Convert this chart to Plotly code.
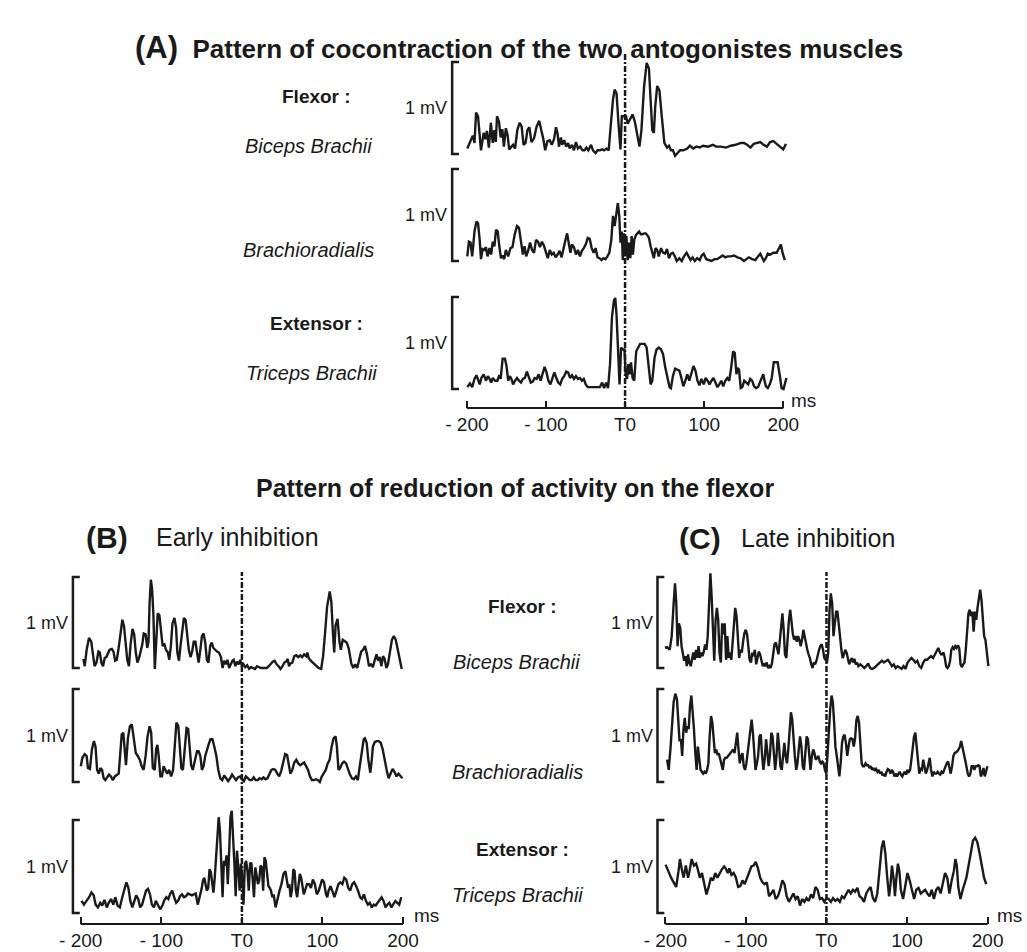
import plotly.graph_objects as go

# ---------------- data (time in ms, amplitude in mV) ----------------
TICK_VALS = [-200, -100, 0, 100, 200]
TICK_TEXT = ["- 200", "- 100", "T0", "100", "200"]

A1_BICEPS = [(-199.5,0.06),(-195.4,0.15),(-192.5,0.20),(-190.4,0.12),(-188.4,0.45),(-185.9,0.41),(-182.2,0.04),(-178.8,0.23),
 (-176.8,0.16),(-174.7,0.25),(-172.2,0.07),(-169.7,0.34),(-167.3,0.12),(-165.2,0.26),(-163.5,0.13),(-161.9,0.41),(-159.4,0.35),
 (-157.3,0.18),(-155.2,0.27),(-153.2,0.08),(-150.7,0.28),(-148.6,0.21),(-146.5,0.05),(-143.6,0.08),(-141.6,0.10),(-139.1,0.06),
 (-136.2,0.26),(-133.3,0.34),(-130.8,0.30),(-128.3,0.10),(-125.8,0.12),(-123.4,0.26),(-120.9,0.29),(-118.4,0.13),(-115.1,0.17),
 (-111.8,0.30),(-108.5,0.36),(-106.0,0.26),(-103.5,0.17),(-101.0,0.04),(-98.1,0.14),(-95.2,0.15),(-92.7,0.10),(-89.8,0.16),
 (-87.3,0.29),(-85.3,0.22),(-83.6,0.08),(-81.1,0.18),(-79.5,0.10),(-77.0,0.15),(-74.5,0.08),(-72.0,0.12),(-70.0,0.06),(-67.1,0.10),
 (-64.6,0.04),(-62.1,0.13),(-59.6,0.06),(-56.7,0.08),(-53.8,0.04),(-51.3,0.04),(-48.8,0.07),(-46.4,0.04),(-43.0,0.10),(-40.6,0.04),
 (-37.3,0.01),(-34.8,0.04),(-31.9,0.04),(-29.0,0.05),(-26.5,0.04),(-23.6,0.06),(-20.7,0.04),(-18.2,0.30),(-15.3,0.59),(-13.2,0.70),
 (-10.8,0.66),(-8.3,0.33),(-5.8,0.05),(-4.1,0.41),(-1.6,0.41),(1.2,0.41),(3.3,0.33),(6.6,0.39),(9.5,0.43),(12.4,0.35),(15.7,0.19),
 (18.2,0.08),(20.7,0.26),(24.0,0.73),(27.3,0.99),(30.2,0.93),(32.3,0.59),(34.4,0.26),(36.4,0.23),(38.1,0.51),(40.6,0.74),(43.5,0.69),
 (46.4,0.41),(49.7,0.12),(53.0,0.07),(55.5,0.09),(58.0,0.04),(60.5,0.04),(63.3,-0.02),(66.3,0.01),(69.6,0.04),(73.7,0.04),(78.7,0.06),
 (82.0,0.09),(86.1,0.06),(90.3,0.08),(94.4,0.07),(98.5,0.09),(104.8,0.08),(111.0,0.10),(115.1,0.08),(121.3,0.08),(127.5,0.07),
 (133.7,0.09),(139.9,0.10),(146.2,0.12),(150.3,0.12),(154.4,0.10),(158.6,0.07),(162.7,0.11),(166.8,0.12),(171.0,0.13),(175.1,0.10),
 (179.3,0.08),(183.4,0.13),(187.5,0.14),(191.7,0.11),(195.8,0.08),(200.0,0.05),(203.5,0.11)]

A2_BRACHIORAD = [(-199.5,0.05),(-197.5,0.21),(-195.4,0.20),(-193.3,0.05),(-192.1,0.16),(-190.4,0.32),(-187.9,0.43),(-185.9,0.41),
 (-183.8,0.23),(-182.2,0.02),(-180.1,0.13),(-178.0,0.12),(-175.9,0.15),(-173.9,0.05),(-171.4,0.14),(-169.3,0.07),(-167.3,0.21),
 (-165.2,0.16),(-163.1,0.34),(-161.0,0.32),(-159.0,0.16),(-156.9,0.03),(-154.8,0.06),(-152.8,0.02),(-150.7,0.12),(-147.8,0.05),
 (-144.9,0.14),(-142.4,0.15),(-139.5,0.29),(-136.6,0.38),(-134.1,0.36),(-131.6,0.20),(-129.2,0.07),(-127.1,0.16),(-125.0,0.05),
 (-122.6,0.11),(-120.1,0.20),(-117.6,0.12),(-115.1,0.09),(-112.6,0.23),(-110.1,0.21),(-107.6,0.15),(-105.1,0.21),(-102.7,0.17),
 (-100.2,0.09),(-97.7,0.03),(-95.2,0.12),(-92.7,0.07),(-90.2,0.09),(-87.8,0.04),(-85.3,0.07),(-82.8,0.11),(-80.3,0.04),(-77.8,0.12),
 (-75.3,0.23),(-73.3,0.30),(-71.2,0.20),(-69.1,0.09),(-67.1,0.18),(-64.6,0.15),(-62.1,0.07),(-59.6,0.12),(-57.1,0.05),(-54.6,0.11),
 (-52.2,0.14),(-49.7,0.18),(-47.2,0.25),(-44.7,0.24),(-42.2,0.14),(-39.7,0.09),(-37.3,0.14),(-34.8,0.04),(-32.3,0.03),(-29.8,0.01),
 (-27.3,0.03),(-24.8,0.02),(-22.3,0.05),(-19.9,0.09),(-17.4,0.23),(-15.3,0.49),(-13.2,0.38),(-11.2,0.52),(-9.1,0.63),(-7.4,0.50),
 (-5.8,0.20),(-4.1,0.32),(-2.9,0.01),(-1.6,0.30),(0.0,0.05),(1.7,0.27),(3.3,0.01),(5.0,0.20),(6.6,0.03),(8.3,0.27),(9.9,0.07),
 (11.6,0.23),(13.7,0.28),(15.7,0.30),(17.8,0.32),(19.9,0.29),(21.9,0.29),(24.0,0.30),(26.1,0.30),(28.2,0.28),(30.2,0.25),(32.3,0.16),
 (34.4,0.09),(36.4,0.03),(38.5,0.14),(40.6,0.12),(42.6,0.05),(45.5,0.14),(48.0,0.09),(50.5,0.08),(53.0,0.13),(55.5,0.03),(58.0,0.08),
 (60.5,0.09),(63.0,0.05),(65.4,0.00),(68.7,0.03),(71.6,0.00),(74.5,0.05),(77.8,0.09),(80.3,0.05),(82.8,0.01),(85.3,0.04),(88.2,0.00),
 (91.1,0.03),(94.4,0.01),(96.9,0.06),(99.4,0.08),(102.7,0.02),(106.0,0.01),(109.3,0.00),(113.0,0.02),(116.3,0.02),(120.1,0.04),
 (123.4,0.06),(126.7,0.04),(129.6,0.05),(133.7,0.05),(137.9,0.06),(142.0,0.04),(146.2,0.03),(150.3,0.00),(153.6,0.02),(156.5,0.04),
 (160.6,0.02),(164.8,0.01),(168.1,0.05),(171.0,0.08),(173.1,0.04),(175.5,0.00),(178.0,0.03),(180.5,0.08),(183.4,0.07),(187.5,0.09),
 (191.7,0.09),(195.0,0.14),(197.1,0.18),(199.1,0.09),(202.0,0.01)]

A3_TRICEPS = [(-199.5,0.02),(-196.2,0.06),(-193.3,0.02),(-190.4,0.11),(-187.9,0.15),(-185.9,0.09),(-183.8,0.05),(-181.7,0.12),
 (-178.8,0.16),(-175.9,0.09),(-173.5,0.14),(-171.4,0.11),(-169.3,0.07),(-167.3,0.12),(-164.4,0.09),(-161.5,0.09),(-159.0,0.15),
 (-157.3,0.11),(-154.8,0.33),(-151.9,0.33),(-149.9,0.25),(-147.8,0.09),(-145.7,0.14),(-143.7,0.11),(-141.6,0.05),(-139.1,0.09),
 (-136.6,0.12),(-134.1,0.09),(-131.6,0.07),(-129.2,0.11),(-126.7,0.12),(-124.2,0.19),(-121.7,0.12),(-119.2,0.07),(-116.7,0.08),
 (-114.3,0.12),(-111.8,0.11),(-109.3,0.16),(-106.8,0.09),(-104.3,0.18),(-101.8,0.24),(-99.3,0.18),(-96.9,0.09),(-94.4,0.05),
 (-91.9,0.12),(-89.4,0.18),(-86.9,0.12),(-84.5,0.07),(-82.0,0.05),(-79.5,0.11),(-77.0,0.14),(-74.5,0.19),(-72.0,0.18),(-69.6,0.12),
 (-67.1,0.15),(-64.6,0.11),(-62.1,0.14),(-59.6,0.11),(-57.1,0.12),(-54.6,0.09),(-52.2,0.11),(-49.7,0.05),(-47.2,0.02),(-44.3,0.02),
 (-41.4,0.02),(-38.1,0.02),(-34.8,0.02),(-31.9,0.02),(-29.0,0.07),(-26.5,0.01),(-24.0,0.07),(-21.5,0.01),(-19.0,0.27),(-16.6,0.78),
 (-14.1,0.96),(-12.4,0.99),(-10.8,0.81),(-9.1,0.38),(-7.0,0.05),(-5.0,0.45),(-2.9,0.43),(-0.8,0.43),(0.8,0.16),(2.5,0.11),(4.1,0.27),
 (5.8,0.16),(7.5,0.29),(9.5,0.12),(11.6,0.09),(14.1,0.41),(16.6,0.45),(19.1,0.49),(21.9,0.49),(24.8,0.49),(27.3,0.45),(29.8,0.21),
 (32.3,0.05),(34.4,0.09),(37.3,0.34),(39.8,0.43),(42.7,0.45),(45.5,0.43),(48.0,0.38),(50.9,0.23),(53.8,0.11),(56.3,0.02),(58.0,0.01),
 (60.5,0.14),(63.3,0.22),(66.2,0.21),(68.7,0.20),(71.2,0.12),(73.7,0.03),(76.2,0.09),(78.7,0.16),(81.2,0.09),(84.1,0.18),(86.5,0.25),
 (89.0,0.20),(91.5,0.09),(94.0,0.04),(96.5,0.11),(99.4,0.05),(101.9,0.12),(104.3,0.09),(106.8,0.05),(109.3,0.09),(111.8,0.12),
 (114.3,0.07),(116.8,0.02),(119.2,0.05),(121.7,0.09),(124.2,0.03),(126.7,0.09),(129.2,0.12),(131.7,0.09),(134.1,0.23),(136.6,0.41),
 (138.7,0.39),(140.8,0.16),(142.4,0.23),(144.1,0.21),(146.2,0.01),(148.2,0.02),(150.7,0.09),(153.2,0.07),(155.7,0.05),(158.2,0.11),
 (160.6,0.09),(163.1,0.03),(165.6,0.01),(168.1,0.02),(170.6,0.07),(173.1,0.14),(174.7,0.16),(176.4,0.09),(178.0,0.03),(180.5,0.01),
 (183.0,0.05),(185.5,0.12),(188.0,0.29),(190.4,0.29),(192.9,0.29),(195.4,0.16),(197.9,0.01),(200.4,0.00),(202.9,0.09),(204.0,0.12)]

B1_BICEPS = [(-196.8,0.10),(-195.1,0.02),(-192.7,0.20),(-189.8,0.33),(-187.0,0.29),(-184.6,0.13),(-182.9,0.02),(-180.5,0.06),
 (-178.1,0.18),(-176.4,0.17),(-174.4,0.06),(-172.4,0.02),(-170.3,0.11),(-168.3,0.12),(-166.3,0.17),(-164.2,0.20),(-161.4,0.21),
 (-159.4,0.18),(-157.3,0.08),(-155.3,0.09),(-153.3,0.20),(-151.2,0.37),(-148.4,0.53),(-146.3,0.46),(-144.3,0.24),(-142.3,0.09),
 (-140.2,0.02),(-138.2,0.26),(-135.8,0.43),(-133.7,0.37),(-131.7,0.17),(-129.7,0.06),(-127.6,0.11),(-125.6,0.20),(-123.6,0.26),
 (-121.9,0.38),(-119.5,0.37),(-117.5,0.22),(-115.9,0.29),(-114.6,0.71),(-113.0,0.97),(-111.4,0.86),(-109.8,0.57),(-108.1,-0.01),
 (-106.5,0.24),(-104.5,0.60),(-102.4,0.58),(-100.4,0.44),(-98.4,0.24),(-96.3,0.27),(-94.3,0.20),(-91.9,0.17),(-90.2,0.09),(-88.2,0.24),
 (-86.2,0.49),(-83.7,0.55),(-81.7,0.44),(-80.1,0.17),(-78.1,0.08),(-76.0,0.26),(-74.0,0.40),(-72.0,0.55),(-69.9,0.53),(-67.9,0.37),
 (-65.9,0.20),(-63.8,0.12),(-61.8,0.18),(-59.8,0.29),(-57.7,0.29),(-55.7,0.17),(-53.7,0.06),(-51.6,0.20),(-49.6,0.35),(-47.6,0.38),
 (-45.5,0.28),(-43.5,0.09),(-41.5,0.06),(-39.4,0.24),(-37.4,0.28),(-35.4,0.22),(-33.3,0.20),(-30.9,0.18),(-28.5,0.17),(-26.0,0.12),
 (-24.0,0.00),(-22.0,0.08),(-19.9,0.04),(-17.9,0.09),(-15.9,0.00),(-13.8,0.04),(-11.8,0.08),(-10.2,0.09),(-8.1,0.02),(-6.1,0.07),
 (-4.1,0.04),(-2.0,0.09),(0.0,0.02),(2.0,0.04),(4.1,0.01),(6.5,0.03),(8.9,-0.01),(11.4,0.01),(13.8,0.00),(16.3,-0.01),(18.7,0.02),
 (21.1,0.01),(23.6,0.00),(26.0,0.00),(28.4,0.00),(30.9,0.00),(33.3,0.02),(35.8,0.05),(38.2,0.07),(40.6,0.08),(43.1,0.04),(45.5,0.02),
 (48.0,-0.01),(50.4,0.02),(52.8,0.06),(54.9,0.07),(56.9,0.10),(58.5,0.02),(60.2,0.05),(62.6,0.06),(65.0,0.13),(67.5,0.14),(69.9,0.12),
 (72.4,0.14),(74.8,0.12),(77.2,0.15),(79.7,0.13),(81.3,0.17),(82.9,0.11),(85.4,0.08),(88.6,0.05),(91.9,0.02),(95.1,0.00),(98.4,-0.01),
 (100.8,0.13),(103.2,0.38),(105.7,0.67),(109.0,0.84),(111.0,0.73),(113.0,0.38),(114.6,0.17),(116.3,0.47),(118.7,0.54),(121.1,0.29),
 (122.8,0.20),(125.2,0.31),(127.6,0.29),(130.1,0.28),(132.5,0.22),(134.1,0.13),(135.8,0.05),(138.2,0.00),(140.6,0.04),(143.1,0.00),
 (145.5,0.09),(148.0,0.18),(150.4,0.20),(152.8,0.24),(155.3,0.15),(157.7,0.02),(160.2,0.04),(162.6,0.01),(165.0,0.09),(167.1,0.15),
 (169.1,0.08),(171.1,0.12),(173.2,0.02),(175.2,0.13),(177.2,0.10),(179.3,0.00),(181.3,0.04),(183.7,0.20),(186.2,0.31),(188.6,0.35),
 (191.0,0.31),(193.5,0.20),(195.9,0.08),(198.4,-0.01)]

B2_BRACHIORAD = [(-200.0,0.17),(-198.0,0.26),(-195.1,0.30),(-192.7,0.28),(-191.1,0.15),(-188.6,0.14),(-186.2,0.35),(-183.7,0.44),
 (-181.7,0.38),(-179.7,0.13),(-177.6,0.09),(-175.6,0.15),(-173.6,0.13),(-171.6,0.04),(-169.5,0.02),(-167.5,0.05),(-165.0,0.08),
 (-162.6,0.06),(-160.2,0.02),(-157.7,0.06),(-155.3,0.08),(-152.9,0.09),(-151.2,0.28),(-149.2,0.51),(-147.2,0.53),(-145.5,0.35),
 (-143.9,0.18),(-141.5,0.47),(-139.0,0.60),(-136.6,0.62),(-134.2,0.49),(-131.7,0.31),(-129.3,0.28),(-126.8,0.24),(-124.4,0.17),
 (-122.0,0.13),(-119.5,0.28),(-117.1,0.49),(-114.6,0.60),(-112.6,0.53),(-110.6,0.15),(-108.1,0.13),(-106.5,0.35),(-104.9,0.40),
 (-103.3,0.28),(-101.2,0.06),(-99.2,0.06),(-97.2,0.17),(-95.1,0.13),(-92.7,0.09),(-90.3,0.13),(-87.8,0.06),(-85.4,0.13),(-82.9,0.42),
 (-81.3,0.64),(-78.9,0.60),(-77.2,0.35),(-75.2,0.15),(-73.2,0.13),(-70.7,0.42),(-68.7,0.58),(-66.7,0.57),(-65.0,0.38),(-63.0,0.18),
 (-61.0,0.13),(-58.5,0.24),(-55.7,0.33),(-53.7,0.33),(-51.6,0.28),(-49.6,0.13),(-47.6,0.17),(-45.5,0.28),(-43.5,0.35),(-41.5,0.40),
 (-39.0,0.46),(-36.6,0.46),(-34.2,0.38),(-31.7,0.28),(-29.3,0.13),(-26.8,0.04),(-24.4,0.02),(-22.0,0.07),(-19.5,0.04),(-17.1,0.01),
 (-14.6,0.04),(-12.2,0.08),(-9.8,0.05),(-7.3,0.02),(-4.9,0.05),(-2.4,0.06),(0.0,0.03),(2.4,0.01),(4.9,0.06),(7.3,0.04),(9.8,0.02),
 (12.2,0.02),(14.6,0.05),(17.1,0.02),(19.5,0.02),(22.0,0.04),(24.4,0.03),(26.8,0.05),(29.3,0.03),(31.7,0.04),(34.1,0.08),(36.6,0.13),
 (39.0,0.14),(41.5,0.13),(43.9,0.09),(46.3,0.06),(48.8,0.12),(51.2,0.20),(53.7,0.30),(56.1,0.29),(58.5,0.17),(60.2,0.09),(62.6,0.13),
 (65.0,0.21),(67.5,0.24),(69.9,0.20),(72.4,0.18),(74.8,0.20),(77.2,0.21),(79.7,0.17),(82.1,0.13),(84.5,0.06),(87.0,0.02),(89.4,0.02),
 (91.9,0.03),(94.3,0.02),(96.7,0.00),(99.2,0.06),(101.6,0.10),(104.1,0.13),(106.5,0.20),(108.9,0.24),(111.4,0.38),(113.8,0.47),
 (116.3,0.49),(117.9,0.38),(119.9,0.13),(122.0,0.15),(124.4,0.20),(126.8,0.22),(129.3,0.20),(131.7,0.13),(134.1,0.08),(136.6,0.04),
 (139.0,0.03),(141.5,0.06),(143.9,0.02),(146.3,0.17),(148.8,0.31),(151.2,0.46),(152.8,0.47),(154.9,0.42),(156.9,0.24),(159.4,0.10),
 (161.0,0.22),(162.6,0.38),(165.0,0.43),(167.5,0.44),(169.9,0.44),(172.4,0.42),(174.8,0.35),(177.2,0.22),(179.7,0.13),(182.1,0.04),
 (184.5,0.09),(187.0,0.14),(189.4,0.11),(191.9,0.06),(194.3,0.09),(196.7,0.06),(199.2,0.04)]

B3_TRICEPS = [(-199.0,0.13),(-196.1,0.09),(-192.9,0.13),(-189.6,0.17),(-186.8,0.22),(-184.0,0.19),(-181.5,0.09),(-178.7,0.06),
 (-175.8,0.11),(-173.4,0.08),(-170.6,0.14),(-167.7,0.06),(-165.3,0.11),(-162.4,0.15),(-159.6,0.09),(-157.2,0.17),(-154.3,0.08),
 (-151.5,0.06),(-149.0,0.15),(-146.2,0.24),(-143.4,0.33),(-140.9,0.27),(-138.5,0.13),(-136.0,0.06),(-133.6,0.13),(-131.2,0.19),
 (-128.7,0.15),(-126.3,0.06),(-123.9,0.09),(-121.4,0.17),(-119.0,0.24),(-116.6,0.26),(-114.1,0.20),(-111.7,0.09),(-109.2,0.06),
 (-106.8,0.13),(-104.4,0.09),(-101.5,0.04),(-98.7,0.08),(-96.2,0.14),(-93.8,0.17),(-91.4,0.15),(-88.9,0.21),(-86.5,0.24),(-84.1,0.17),
 (-81.6,0.11),(-79.2,0.13),(-76.8,0.18),(-74.3,0.20),(-71.9,0.17),(-69.4,0.18),(-67.0,0.21),(-64.6,0.20),(-62.1,0.19),(-59.7,0.20),
 (-57.3,0.21),(-54.8,0.09),(-52.4,0.17),(-50.0,0.26),(-48.3,0.35),(-46.7,0.38),(-45.1,0.31),(-43.5,0.24),(-41.8,0.27),(-40.2,0.47),
 (-38.6,0.44),(-37.0,0.33),(-35.3,0.22),(-33.7,0.38),(-32.1,0.63),(-30.5,0.88),(-28.8,1.03),(-27.2,0.88),(-25.6,0.53),(-24.0,0.17),
 (-22.3,0.56),(-20.7,0.51),(-19.1,0.62),(-17.5,0.31),(-15.8,0.67),(-14.2,1.03),(-12.6,1.10),(-11.0,0.85),(-9.3,0.53),(-7.7,0.18),
 (-6.1,0.67),(-4.5,0.49),(-2.8,0.24),(-1.2,0.53),(0.4,0.38),(2.0,0.09),(3.7,0.53),(5.3,0.56),(6.9,0.45),(8.5,0.24),(10.2,0.53),
 (11.8,0.54),(13.4,0.31),(15.0,0.17),(16.7,0.49),(18.3,0.42),(19.9,0.31),(21.5,0.35),(23.1,0.51),(24.8,0.49),(26.4,0.24),(28.0,0.60),
 (29.6,0.56),(31.3,0.42),(32.9,0.29),(34.5,0.27),(36.1,0.24),(37.8,0.17),(39.4,0.20),(41.8,0.06),(44.3,0.17),(46.7,0.24),(49.1,0.31),
 (51.6,0.42),(54.0,0.45),(55.6,0.38),(57.3,0.27),(58.9,0.31),(60.5,0.17),(62.1,0.24),(63.8,0.47),(65.4,0.45),(67.0,0.24),(68.6,0.17),
 (70.3,0.33),(71.9,0.42),(73.5,0.38),(75.1,0.31),(76.8,0.20),(78.4,0.24),(80.8,0.31),(83.3,0.31),(85.7,0.27),(88.1,0.36),(90.6,0.31),
 (93.0,0.20),(95.4,0.24),(97.9,0.31),(99.5,0.36),(101.9,0.33),(104.4,0.20),(106.0,0.17),(107.6,0.24),(110.1,0.29),(112.5,0.24),
 (114.9,0.17),(117.4,0.24),(119.8,0.31),(122.2,0.33),(124.7,0.31),(127.1,0.38),(129.5,0.36),(132.0,0.27),(134.4,0.24),(136.9,0.31),
 (139.3,0.33),(141.7,0.29),(144.2,0.24),(146.6,0.17),(149.0,0.15),(151.5,0.20),(153.9,0.13),(156.3,0.09),(158.8,0.11),(161.2,0.06),
 (163.7,0.09),(166.1,0.08),(168.5,0.11),(171.0,0.13),(173.4,0.17),(175.8,0.13),(178.3,0.06),(180.7,0.09),(183.1,0.11),(185.6,0.06),
 (188.0,0.09),(190.5,0.13),(192.9,0.11),(195.3,0.09),(197.8,0.17)]

C1_BICEPS = [(-200.5,0.22),(-197.8,0.23),(-194.6,0.20),(-192.1,0.35),(-189.7,0.71),(-188.0,0.93),(-186.4,0.71),(-184.8,0.24),
 (-183.2,0.49),(-181.5,0.44),(-179.9,0.24),(-178.3,0.13),(-176.7,0.08),(-175.0,0.13),(-173.4,0.02),(-171.8,0.15),(-170.2,0.06),
 (-168.5,0.02),(-166.9,0.09),(-165.3,0.17),(-163.7,0.09),(-162.0,0.20),(-160.4,0.11),(-158.8,0.24),(-157.2,0.11),(-155.5,0.17),
 (-153.9,0.13),(-152.3,0.18),(-150.7,0.26),(-149.0,0.20),(-147.4,0.35),(-145.8,0.71),(-144.1,1.04),(-142.5,0.78),(-140.9,0.35),
 (-139.3,0.08),(-137.6,0.53),(-136.0,0.66),(-134.4,0.53),(-132.8,0.17),(-131.1,0.06),(-129.5,0.49),(-127.9,0.37),(-126.3,0.49),
 (-124.6,0.09),(-123.0,0.35),(-121.4,0.11),(-119.8,0.17),(-118.1,0.09),(-116.5,0.31),(-114.9,0.53),(-113.3,0.66),(-111.6,0.57),
 (-110.0,0.35),(-108.4,0.11),(-106.7,0.20),(-105.1,0.17),(-103.5,0.29),(-101.9,0.38),(-100.2,0.42),(-98.6,0.37),(-97.0,0.24),
 (-95.4,0.09),(-93.7,0.06),(-92.1,0.17),(-90.5,0.13),(-88.9,0.20),(-87.2,0.04),(-85.6,0.11),(-84.0,0.18),(-82.4,0.15),(-80.7,0.09),
 (-79.1,0.02),(-77.5,0.04),(-75.9,0.02),(-74.2,0.06),(-72.6,0.00),(-71.0,0.02),(-69.4,0.00),(-67.7,0.05),(-66.1,0.17),(-64.5,0.26),
 (-62.8,0.28),(-61.2,0.20),(-59.6,0.15),(-58.0,0.29),(-56.3,0.44),(-54.7,0.60),(-53.1,0.42),(-51.5,0.15),(-49.8,0.11),(-48.2,0.35),
 (-46.6,0.53),(-45.0,0.64),(-43.3,0.46),(-41.7,0.37),(-40.1,0.31),(-38.5,0.35),(-36.8,0.29),(-35.2,0.35),(-33.6,0.31),(-32.0,0.24),
 (-30.3,0.31),(-28.7,0.42),(-27.1,0.35),(-25.5,0.26),(-23.8,0.20),(-22.2,0.15),(-20.6,0.11),(-18.9,0.04),(-17.3,0.00),(-15.7,0.06),
 (-14.1,0.04),(-12.4,0.08),(-10.8,0.15),(-9.2,0.20),(-7.6,0.24),(-5.9,0.26),(-4.3,0.20),(-2.7,0.11),(-1.1,0.09),(0.6,0.06),(2.2,0.17),
 (3.8,0.64),(5.4,0.82),(7.1,0.71),(8.7,0.35),(10.3,0.49),(12.0,0.62),(13.6,0.62),(15.2,0.51),(16.8,0.35),(18.5,0.20),(20.1,0.11),
 (21.7,0.15),(23.3,0.20),(25.0,0.17),(26.6,0.09),(28.2,0.04),(29.8,0.08),(31.5,0.11),(33.1,0.06),(34.7,0.10),(36.3,0.04),(38.0,0.06),
 (39.6,0.02),(42.0,0.04),(44.5,0.02),(46.9,0.00),(49.3,0.02),(51.8,0.05),(54.2,0.00),(56.7,-0.01),(59.1,0.00),(61.5,0.02),(64.0,0.04),
 (66.4,0.06),(68.9,0.08),(71.3,0.06),(73.7,0.08),(76.2,0.09),(78.6,0.06),(81.1,0.02),(83.5,0.04),(85.9,0.00),(88.4,0.02),(90.8,0.00),
 (93.3,-0.01),(95.7,0.02),(98.1,-0.01),(100.6,0.06),(103.0,0.09),(105.4,0.11),(107.9,0.09),(110.3,0.06),(112.8,0.08),(115.2,0.02),
 (117.6,0.00),(120.1,0.06),(122.5,0.09),(125.0,0.09),(127.4,0.11),(129.8,0.13),(132.3,0.11),(134.7,0.15),(137.2,0.18),(138.8,0.22),
 (140.4,0.18),(142.0,0.15),(143.7,0.15),(145.3,0.17),(146.9,0.11),(148.5,0.02),(150.2,0.00),(151.8,0.02),(153.4,0.08),(155.0,0.20),
 (156.7,0.23),(158.3,0.21),(159.9,0.24),(161.5,0.22),(163.2,0.25),(164.8,0.22),(166.4,0.04),(168.0,0.01),(169.7,0.04),(171.3,0.06),
 (172.9,0.20),(174.5,0.38),(176.2,0.60),(177.8,0.64),(179.4,0.57),(181.1,0.62),(182.7,0.40),(184.3,0.62),(185.9,0.53),(187.6,0.67),
 (189.2,0.80),(190.8,0.86),(192.4,0.75),(194.1,0.57),(195.7,0.35),(197.3,0.31),(198.9,0.20),(201.0,0.02)]

C2_BRACHIORAD = [(-197.8,0.24),(-195.8,0.13),(-193.7,0.35),(-191.7,0.60),(-189.7,0.86),(-187.6,0.95),(-185.6,0.89),(-184.0,0.67),
 (-182.4,0.44),(-180.7,0.46),(-179.1,0.28),(-177.5,0.57),(-175.9,0.69),(-174.2,0.53),(-172.6,0.60),(-171.0,0.57),(-169.4,0.82),
 (-167.7,0.93),(-166.1,0.78),(-164.5,0.57),(-162.8,0.31),(-161.2,0.13),(-159.6,0.38),(-158.0,0.28),(-156.3,0.13),(-154.7,0.11),
 (-153.1,0.09),(-151.5,0.11),(-149.8,0.09),(-148.2,0.13),(-146.6,0.20),(-145.0,0.49),(-143.3,0.71),(-141.7,0.64),(-140.1,0.42),
 (-138.5,0.31),(-136.8,0.35),(-135.2,0.29),(-133.6,0.31),(-132.0,0.24),(-130.3,0.17),(-128.7,0.13),(-127.1,0.24),(-125.4,0.26),
 (-123.8,0.26),(-122.2,0.28),(-120.6,0.29),(-118.9,0.31),(-117.3,0.33),(-115.7,0.35),(-114.1,0.31),(-112.4,0.42),(-110.8,0.53),
 (-109.2,0.35),(-107.6,0.20),(-105.9,0.28),(-104.3,0.31),(-102.7,0.17),(-101.1,0.13),(-99.4,0.20),(-97.8,0.33),(-96.2,0.42),
 (-94.6,0.57),(-92.9,0.67),(-91.3,0.53),(-89.7,0.28),(-88.1,0.13),(-86.4,0.20),(-84.8,0.28),(-83.2,0.49),(-81.5,0.51),(-79.9,0.28),
 (-78.3,0.13),(-76.7,0.24),(-75.0,0.46),(-73.4,0.33),(-71.8,0.17),(-70.2,0.28),(-68.5,0.53),(-66.9,0.49),(-65.3,0.35),(-63.7,0.13),
 (-62.0,0.28),(-60.4,0.53),(-58.8,0.38),(-57.2,0.17),(-55.5,0.13),(-53.9,0.28),(-52.3,0.42),(-50.7,0.28),(-49.0,0.20),(-47.4,0.35),
 (-45.8,0.60),(-44.1,0.75),(-42.5,0.67),(-40.9,0.42),(-39.3,0.28),(-37.6,0.13),(-36.0,0.20),(-34.4,0.35),(-32.8,0.49),(-31.1,0.38),
 (-29.5,0.17),(-27.9,0.13),(-26.3,0.28),(-24.6,0.49),(-23.0,0.46),(-21.4,0.24),(-19.8,0.13),(-18.1,0.28),(-16.5,0.35),(-14.9,0.31),
 (-13.3,0.24),(-11.6,0.26),(-10.0,0.28),(-8.4,0.22),(-6.8,0.20),(-5.1,0.22),(-3.5,0.20),(-1.9,0.13),(-0.2,0.09),(1.4,0.31),(3.0,0.57),
 (4.6,0.78),(6.3,0.93),(7.9,0.86),(9.5,0.64),(11.1,0.38),(12.8,0.28),(14.4,0.13),(16.0,0.06),(17.6,0.20),(19.3,0.42),(20.9,0.49),
 (22.5,0.51),(24.1,0.42),(25.8,0.28),(27.4,0.38),(29.0,0.46),(30.6,0.47),(32.3,0.46),(33.9,0.38),(35.5,0.47),(37.2,0.67),(38.8,0.71),
 (40.4,0.64),(42.0,0.42),(43.7,0.20),(45.3,0.17),(46.9,0.17),(48.5,0.20),(50.2,0.18),(51.8,0.18),(53.4,0.15),(55.0,0.17),(56.7,0.13),
 (58.3,0.15),(59.9,0.12),(61.5,0.14),(63.2,0.11),(64.8,0.13),(66.4,0.09),(68.0,0.11),(69.7,0.07),(71.3,0.09),(72.9,0.06),(74.6,0.11),
 (76.2,0.14),(77.8,0.13),(79.4,0.09),(81.1,0.13),(82.7,0.11),(84.3,0.06),(85.9,0.09),(87.6,0.06),(89.2,0.09),(90.8,0.11),(92.4,0.08),
 (94.1,0.06),(95.7,0.09),(97.3,0.11),(98.9,0.08),(100.6,0.13),(102.2,0.11),(103.8,0.13),(105.4,0.24),(107.1,0.38),(108.7,0.49),
 (110.3,0.53),(112.0,0.38),(113.6,0.20),(115.2,0.09),(116.8,0.14),(118.5,0.13),(120.1,0.24),(121.7,0.17),(123.3,0.09),(125.0,0.13),
 (126.6,0.22),(128.2,0.26),(129.8,0.13),(131.5,0.06),(133.1,0.11),(134.7,0.09),(136.3,0.09),(138.0,0.11),(139.6,0.09),(141.2,0.08),
 (142.8,0.11),(144.5,0.09),(146.1,0.13),(147.7,0.17),(149.3,0.20),(151.0,0.22),(152.6,0.17),(154.2,0.09),(155.9,0.17),(157.5,0.28),
 (159.1,0.31),(160.7,0.32),(162.4,0.33),(164.0,0.35),(165.6,0.38),(167.2,0.44),(168.9,0.38),(170.5,0.31),(172.1,0.24),(173.7,0.17),
 (175.4,0.09),(177.0,0.06),(178.6,0.09),(180.2,0.17),(181.9,0.17),(183.5,0.13),(185.1,0.17),(186.7,0.17),(188.4,0.18),(190.0,0.17),
 (191.6,0.06),(193.2,0.09),(194.9,0.15),(196.5,0.06),(198.1,0.11),(199.8,0.17)]

C3_TRICEPS = [(-199.7,0.52),(-196.5,0.45),(-192.9,0.38),(-189.7,0.33),(-186.5,0.28),(-183.7,0.45),(-181.9,0.58),(-179.1,0.45),
 (-177.3,0.38),(-174.6,0.51),(-171.8,0.38),(-170.0,0.45),(-167.3,0.58),(-164.5,0.51),(-161.8,0.53),(-160.0,0.48),(-157.2,0.38),
 (-154.5,0.43),(-151.7,0.31),(-149.0,0.20),(-146.2,0.28),(-143.5,0.38),(-140.8,0.35),(-138.0,0.43),(-135.3,0.38),(-132.5,0.43),
 (-129.8,0.47),(-127.0,0.50),(-125.2,0.48),(-122.5,0.43),(-120.6,0.48),(-117.9,0.41),(-115.2,0.43),(-112.4,0.38),(-109.7,0.28),
 (-106.9,0.29),(-104.2,0.35),(-101.5,0.31),(-98.7,0.38),(-96.0,0.45),(-93.2,0.50),(-90.5,0.51),(-87.7,0.55),(-85.0,0.48),(-82.3,0.38),
 (-79.5,0.33),(-76.8,0.31),(-74.0,0.33),(-71.3,0.18),(-68.6,0.21),(-65.8,0.25),(-63.1,0.15),(-60.3,0.18),(-57.6,0.25),(-54.8,0.35),
 (-52.1,0.31),(-49.4,0.18),(-46.6,0.12),(-43.9,0.16),(-41.1,0.21),(-38.4,0.15),(-35.6,0.18),(-32.9,0.08),(-30.2,0.15),(-27.4,0.12),
 (-24.7,0.16),(-21.9,0.13),(-19.2,0.20),(-16.5,0.16),(-13.7,0.28),(-11.0,0.25),(-8.2,0.15),(-5.5,0.16),(-2.7,0.12),(0.0,0.16),
 (2.7,0.15),(5.5,0.12),(8.2,0.16),(11.0,0.13),(13.7,0.15),(16.5,0.12),(19.2,0.18),(21.9,0.16),(24.7,0.21),(27.4,0.25),(30.2,0.21),
 (32.9,0.25),(35.6,0.23),(38.4,0.27),(41.1,0.18),(43.9,0.16),(46.6,0.12),(49.4,0.21),(52.1,0.25),(54.8,0.28),(57.6,0.16),(60.3,0.12),
 (63.1,0.21),(65.8,0.45),(68.6,0.71),(70.8,0.78),(73.1,0.64),(75.4,0.38),(77.7,0.18),(79.5,0.31),(81.3,0.51),(83.2,0.38),(85.0,0.18),
 (86.8,0.38),(88.7,0.53),(90.5,0.45),(92.3,0.25),(95.1,0.15),(97.8,0.28),(100.5,0.43),(103.3,0.35),(106.0,0.25),(108.8,0.15),
 (111.5,0.25),(114.3,0.27),(117.0,0.21),(119.7,0.23),(122.5,0.25),(125.2,0.21),(128.0,0.18),(130.7,0.25),(133.4,0.15),(136.2,0.25),
 (138.9,0.28),(141.7,0.21),(144.4,0.31),(147.2,0.43),(149.9,0.38),(152.6,0.21),(155.4,0.35),(158.1,0.45),(160.0,0.58),(161.8,0.51),
 (163.6,0.28),(166.3,0.15),(169.1,0.25),(171.8,0.33),(173.7,0.38),(176.4,0.51),(179.1,0.64),(181.9,0.78),(184.6,0.81),(187.3,0.76),
 (190.1,0.64),(192.8,0.51),(195.6,0.38),(198.3,0.31)]

PANEL_A = [A1_BICEPS, A2_BRACHIORAD, A3_TRICEPS]
PANEL_B = [B1_BICEPS, B2_BRACHIORAD, B3_TRICEPS]
PANEL_C = [C1_BICEPS, C2_BRACHIORAD, C3_TRICEPS]

# ---------------- layout helpers (pixels -> paper) ----------------
W, H = 1027, 952
FONT = "Liberation Sans, Arial, sans-serif"
INK = "#1a1a1a"


def px(x):
    return x / W


def py(y):
    return 1 - y / H


PANELS = [
    dict(series=PANEL_A, x0=463, x1=785, rows=[(62, 154), (169, 261), (297, 389)],
         axis_y=408, bx=448, t0_top=53, ms=(791, 400)),
    dict(series=PANEL_B, x0=70, x1=398, rows=[(577, 668), (689, 782), (820, 913)],
         axis_y=924, bx=62, t0_top=572, ms=(407, 915)),
    dict(series=PANEL_C, x0=665, x1=993, rows=[(577, 668), (689, 782), (820, 913)],
         axis_y=924, bx=657, t0_top=572, ms=(1001, 915)),
]

XPAD = 12     # ms beyond +-200
YPAD = 0.18   # mV beyond [0,1]

fig = go.Figure()
layout = dict(width=W, height=H, margin=dict(l=0, r=0, t=0, b=0),
              paper_bgcolor="white", plot_bgcolor="rgba(0,0,0,0)",
              showlegend=False, font=dict(family=FONT, color=INK))
shapes = []
annotations = []

n = 0
for panel in PANELS:
    s = (panel["x1"] - panel["x0"]) / 400.0
    dom_l = panel["x0"] - XPAD * s
    dom_r = panel["x1"] + XPAD * s
    for r, (top, bot) in enumerate(panel["rows"]):
        n += 1
        h = bot - top
        xa = dict(domain=[px(dom_l), px(dom_r)], range=[-200 - XPAD, 200 + XPAD],
                  fixedrange=True, showgrid=False, zeroline=False)
        if r == 2:
            xa.update(visible=True, anchor="free", position=py(panel["axis_y"]),
                      showline=False, ticks="inside", ticklen=7, tickwidth=2, tickcolor=INK,
                      tickmode="array", tickvals=TICK_VALS, ticktext=TICK_TEXT,
                      ticklabelstandoff=3,
                      tickfont=dict(size=19, family=FONT, color=INK))
        else:
            xa.update(visible=False, anchor="y%d" % n)
        ya = dict(domain=[py(bot + YPAD * h), py(top - YPAD * h)], range=[-YPAD, 1 + YPAD],
                  visible=False, fixedrange=True, anchor="x%d" % n)
        layout["xaxis%d" % n] = xa
        layout["yaxis%d" % n] = ya

        pts = panel["series"][r]
        fig.add_trace(go.Scatter(x=[p[0] for p in pts], y=[p[1] for p in pts], mode="lines",
                                 line=dict(color=INK, width=2.4), xaxis="x%d" % n, yaxis="y%d" % n,
                                 hoverinfo="skip"))
        # 1 mV scale bracket
        bx = panel["bx"]
        shapes.append(dict(type="path", xref="paper", yref="paper",
                           path="M %f,%f L %f,%f L %f,%f L %f,%f" % (px(bx + 7), py(top), px(bx), py(top),
                                                                   px(bx), py(bot), px(bx + 7), py(bot)),
                           line=dict(color=INK, width=2.5)))
        annotations.append(dict(text="1 mV", xref="paper", yref="paper", x=px(bx - 3),
                                y=py((top + bot) / 2), xanchor="right", yanchor="middle",
                                showarrow=False, font=dict(size=18, family=FONT, color=INK)))
    # axis line and T0 line (data-referenced on the bottom x-axis)
    shapes.append(dict(type="line", xref="x%d" % n, yref="paper", x0=-200, x1=200,
                       y0=py(panel["axis_y"]), y1=py(panel["axis_y"]), line=dict(color=INK, width=2.2)))
    shapes.append(dict(type="line", xref="x%d" % n, yref="paper", x0=0, x1=0,
                       y0=py(panel["axis_y"]), y1=py(panel["t0_top"]),
                       line=dict(color=INK, width=2.5, dash="6px,2px,2px,2px")))
    annotations.append(dict(text="ms", xref="paper", yref="paper", x=px(panel["ms"][0]), y=py(panel["ms"][1]),
                            xanchor="left", yanchor="middle", showarrow=False,
                            font=dict(size=19, family=FONT, color=INK)))


def label(text, x, y, size, anchor="center"):
    annotations.append(dict(text=text, xref="paper", yref="paper", x=px(x), y=py(y), xanchor=anchor,
                            yanchor="middle", showarrow=False, font=dict(size=size, family=FONT, color=INK)))


label("<b><span style='font-size:31px'>(A)</span>  Pattern of cocontraction of the two antogonistes muscles</b>",
      516, 47, 26)
label("<b>Pattern of reduction of activity on the flexor</b>", 512, 488, 25)
label("<b>(B)</b>", 97, 537, 30)
label("Early inhibition", 145, 537, 25, "left")
label("<b>(C)</b>", 700, 538, 30)
label("Late inhibition", 740, 538, 25, "left")

label("<b>Flexor :</b>", 310, 97, 19)
label("<i>Biceps Brachii</i>", 302, 146, 20)
label("<i>Brachioradialis</i>", 302, 250, 20)
label("<b>Extensor :</b>", 310, 323, 19)
label("<i>Triceps Brachii</i>", 305, 373, 20)

label("<b>Flexor :</b>", 520, 606, 19)
label("<i>Biceps Brachii</i>", 513, 662, 20)
label("<i>Brachioradialis</i>", 515, 772, 20)
label("<b>Extensor :</b>", 520, 849, 19)
label("<i>Triceps Brachii</i>", 515, 895, 20)

layout["shapes"] = shapes
layout["annotations"] = annotations
fig.update_layout(**layout)

fig.write_html("out.html", config={"displayModeBar": False, "staticPlot": True},
               post_script="document.body.style.margin='0';document.body.style.overflow='hidden';")
